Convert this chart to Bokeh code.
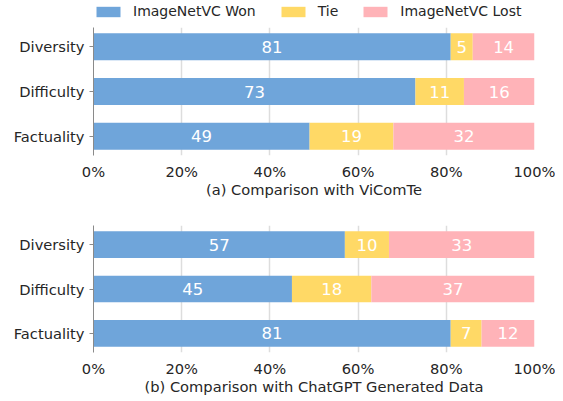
from bokeh.plotting import figure
from bokeh.models import (ColumnDataSource, Legend, LegendItem, LabelSet,
                          PrintfTickFormatter, FixedTicker, Range1d)
from bokeh.core.properties import value
from bokeh.layouts import column
from bokeh.embed import file_html
from bokeh.resources import INLINE

categories = ["Factuality", "Difficulty", "Diversity"]
series = ["ImageNetVC Won", "Tie", "ImageNetVC Lost"]
colors = ["#6fa5da", "#ffd966", "#ffb3b8"]
vicomte_won = [49, 73, 81]
vicomte_tie = [19, 11, 5]
vicomte_lost = [32, 16, 14]
chatgpt_won = [81, 45, 57]
chatgpt_tie = [7, 18, 10]
chatgpt_lost = [12, 37, 33]
x_ticks = [0, 20, 40, 60, 80, 100]
titles = ["(a) Comparison with ViComTe", "(b) Comparison with ChatGPT Generated Data"]

FONT = "DejaVu Sans"
TEXT = "#262626"
SPINE = "#8a8a8a"
W = 555


def make(won, tie, lost, title, height, top, bottom):
    ypos = list(range(len(categories)))
    p = figure(width=W, height=height, min_border_left=93,
               min_border_right=21, min_border_top=top, min_border_bottom=bottom,
               x_range=Range1d(0, 100), y_range=Range1d(-0.43, len(categories) - 0.57),
               output_backend="svg", toolbar_location=None)
    segs = [won, tie, lost]
    left = [0] * len(categories)
    label_x, label_y, label_t = [], [], []
    sources = []
    for vals, col in zip(segs, colors):
        right = [l + v for l, v in zip(left, vals)]
        src = ColumnDataSource(dict(y=ypos, left=left, right=right))
        sources.append(src)
        p.hbar(y="y", left="left", right="right", height=0.6, source=src,
               fill_color=col, line_color=None)
        for i, v in enumerate(vals):
            label_x.append(left[i] + v / 2)
            label_y.append(ypos[i])
            label_t.append(str(v))
        left = right
    lsrc = ColumnDataSource(dict(x=label_x, y=label_y, t=label_t))
    p.add_layout(LabelSet(x="x", y="y", text="t", source=lsrc, text_color="white",
                          text_font=value(FONT), text_font_size="16.5px",
                          text_align="center", text_baseline="middle"))

    p.outline_line_color = None
    p.ygrid.grid_line_color = None
    p.xgrid.ticker = FixedTicker(ticks=x_ticks)
    p.xgrid.grid_line_color = "#dddddd"
    p.xgrid.grid_line_width = 1.5

    xa = p.xaxis[0]
    xa.ticker = FixedTicker(ticks=x_ticks)
    xa.formatter = PrintfTickFormatter(format="%d%%")
    xa.axis_line_color = None
    xa.major_tick_line_color = None
    xa.minor_tick_line_color = None
    xa.major_tick_out = 0
    xa.major_tick_in = 0
    xa.major_label_standoff = 7
    xa.major_label_text_font = FONT
    xa.major_label_text_font_size = "14.67px"
    xa.major_label_text_color = TEXT
    xa.axis_label = title
    xa.axis_label_standoff = -2
    xa.axis_label_text_font = FONT
    xa.axis_label_text_font_size = "14.67px"
    xa.axis_label_text_font_style = "normal"
    xa.axis_label_text_color = TEXT

    ya = p.yaxis[0]
    ya.ticker = FixedTicker(ticks=ypos)
    ya.major_label_overrides = {i: c for i, c in zip(ypos, categories)}
    ya.axis_line_color = SPINE
    ya.major_tick_line_color = SPINE
    ya.minor_tick_line_color = None
    ya.major_tick_out = 4
    ya.major_tick_in = 0
    ya.major_label_standoff = 5
    ya.major_label_text_font = FONT
    ya.major_label_text_font_size = "14.67px"
    ya.major_label_text_color = TEXT
    return p, sources


p1, src1 = make(vicomte_won, vicomte_tie, vicomte_lost, titles[0], 183, 3, 52)
p2, src2 = make(chatgpt_won, chatgpt_tie, chatgpt_lost, titles[1], 191, 18, 46)

# legend strip: same sources/colours as panel (a), its bars kept out of view
LH = 24
pl = figure(width=W, height=LH, min_border_left=0, min_border_right=0,
            min_border_top=0, min_border_bottom=0,
            x_axis_location=None, y_axis_location=None,
            x_range=Range1d(0, 100), y_range=Range1d(50, 51),
            output_backend="svg", toolbar_location=None)
pl.grid.visible = False
pl.outline_line_color = None
items = []
for s, col, src in zip(series, colors, src1):
    r = pl.hbar(y="y", left="left", right="right", height=0.6, source=src,
                fill_color=col, line_color=None)
    items.append(LegendItem(label=s, renderers=[r]))
lg = Legend(items=items, orientation="horizontal", location=(0, 5), margin=0, padding=0,
            glyph_width=30, glyph_height=13, label_height=13, label_standoff=10,
            spacing=22, label_text_font=FONT, label_text_font_size="14px",
            label_text_color=TEXT, border_line_color=None, background_fill_alpha=0)
pl.add_layout(lg, "center")

layout = column(pl, p1, p2)
open("out.html", "w").write(file_html(layout, INLINE))
